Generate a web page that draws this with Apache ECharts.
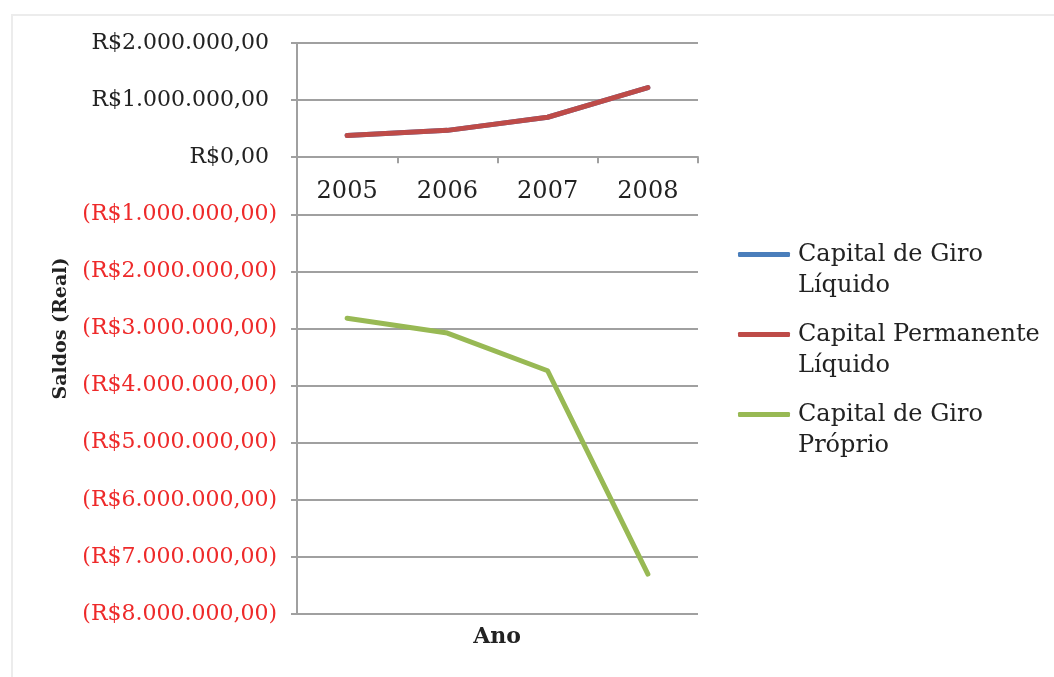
<!DOCTYPE html>
<html>
<head>
<meta charset="utf-8">
<script src="https://cdn.jsdelivr.net/npm/echarts@6/dist/echarts.min.js"></script>
<style>
  html, body { margin: 0; padding: 0; background: #fff; }
  .frame {
    position: absolute; left: 11px; top: 14px; width: 1060px; height: 700px;
    border: 2px solid #ececec; box-sizing: border-box;
  }
  #chart { position: absolute; left: 0; top: 0; width: 1054px; height: 677px; }
</style>
</head>
<body>
<div class="frame"></div>
<div id="chart"></div>
<script>
  // dados
  var anos = ['2005', '2006', '2007', '2008']
  var capitalGiroLiquido = [380000, 470000, 700000, 1220000]
  var capitalPermanenteLiquido = [380000, 470000, 700000, 1220000]
  var capitalGiroProprio = [-2820000, -3080000, -3740000, -7300000]
  var nomesSeries = ['Capital de Giro\nLíquido', 'Capital Permanente\nLíquido', 'Capital de Giro\nPróprio']
  var cores = ['#4a7ebb', '#be4b48', '#98b954']

  var fonte = 'DejaVu Serif'

  function formatReal (v) {
    var s = Math.abs(v).toFixed(0).replace(/\B(?=(\d{3})+(?!\d))/g, '.') + ',00'
    return v < 0 ? '{neg|(R$' + s + ')}' : '{pos|R$' + s + '}'
  }

  var chart = echarts.init(document.getElementById('chart'))
  var option = {
    animation: false,
    color: cores,
    textStyle: { fontFamily: fonte },
    grid: { left: 297, right: 356, top: 43, bottom: 63, containLabel: false },
    legend: {
      orient: 'vertical',
      left: 733,
      top: 203,
      itemWidth: 52,
      itemHeight: 5,
      itemGap: -13,
      icon: 'roundRect',
      textStyle: { fontFamily: fonte, fontSize: 24, color: '#222', lineHeight: 31, padding: [0, 0, 0, 3] },
      formatter: function (name) { return '\n' + name },
      data: nomesSeries
    },
    xAxis: {
      type: 'category',
      data: anos,
      axisLine: { onZero: true, lineStyle: { color: '#a0a0a0', width: 2 } },
      axisTick: { show: true, length: 6, lineStyle: { color: '#a0a0a0', width: 2 } },
      axisLabel: { fontFamily: fonte, fontSize: 24, color: '#222', margin: -434 }
    },
    yAxis: {
      type: 'value',
      min: -8000000,
      max: 2000000,
      interval: 1000000,
      name: 'Saldos (Real)',
      nameLocation: 'middle',
      nameGap: 226,
      nameTextStyle: { fontFamily: fonte, fontSize: 19, fontWeight: 'bold', color: '#222' },
      axisLine: { show: true, lineStyle: { color: '#a0a0a0', width: 2 } },
      axisTick: { show: true, length: 6, lineStyle: { color: '#a0a0a0', width: 2 } },
      splitLine: { lineStyle: { color: '#a0a0a0', width: 2 } },
      axisLabel: {
        margin: 20,
        formatter: formatReal,
        rich: {
          pos: { fontFamily: fonte, fontSize: 22, color: '#222', padding: [0, 8, 0, 0] },
          neg: { fontFamily: fonte, fontSize: 22, color: '#ee2a2a' }
        }
      }
    },
    graphic: [{
      type: 'text',
      x: 497,
      y: 637,
      style: { text: 'Ano', fontFamily: fonte, fontSize: 22, fontWeight: 'bold', fill: '#222', align: 'center', verticalAlign: 'middle' }
    }],
    series: [
      { name: nomesSeries[0], type: 'line', data: capitalGiroLiquido, showSymbol: false, lineStyle: { width: 5, cap: 'round', join: 'round' } },
      { name: nomesSeries[1], type: 'line', data: capitalPermanenteLiquido, showSymbol: false, lineStyle: { width: 5, cap: 'round', join: 'round' } },
      { name: nomesSeries[2], type: 'line', data: capitalGiroProprio, showSymbol: false, lineStyle: { width: 5, cap: 'round', join: 'round' } }
    ]
  }
  chart.setOption(option)
</script>
</body>
</html>
